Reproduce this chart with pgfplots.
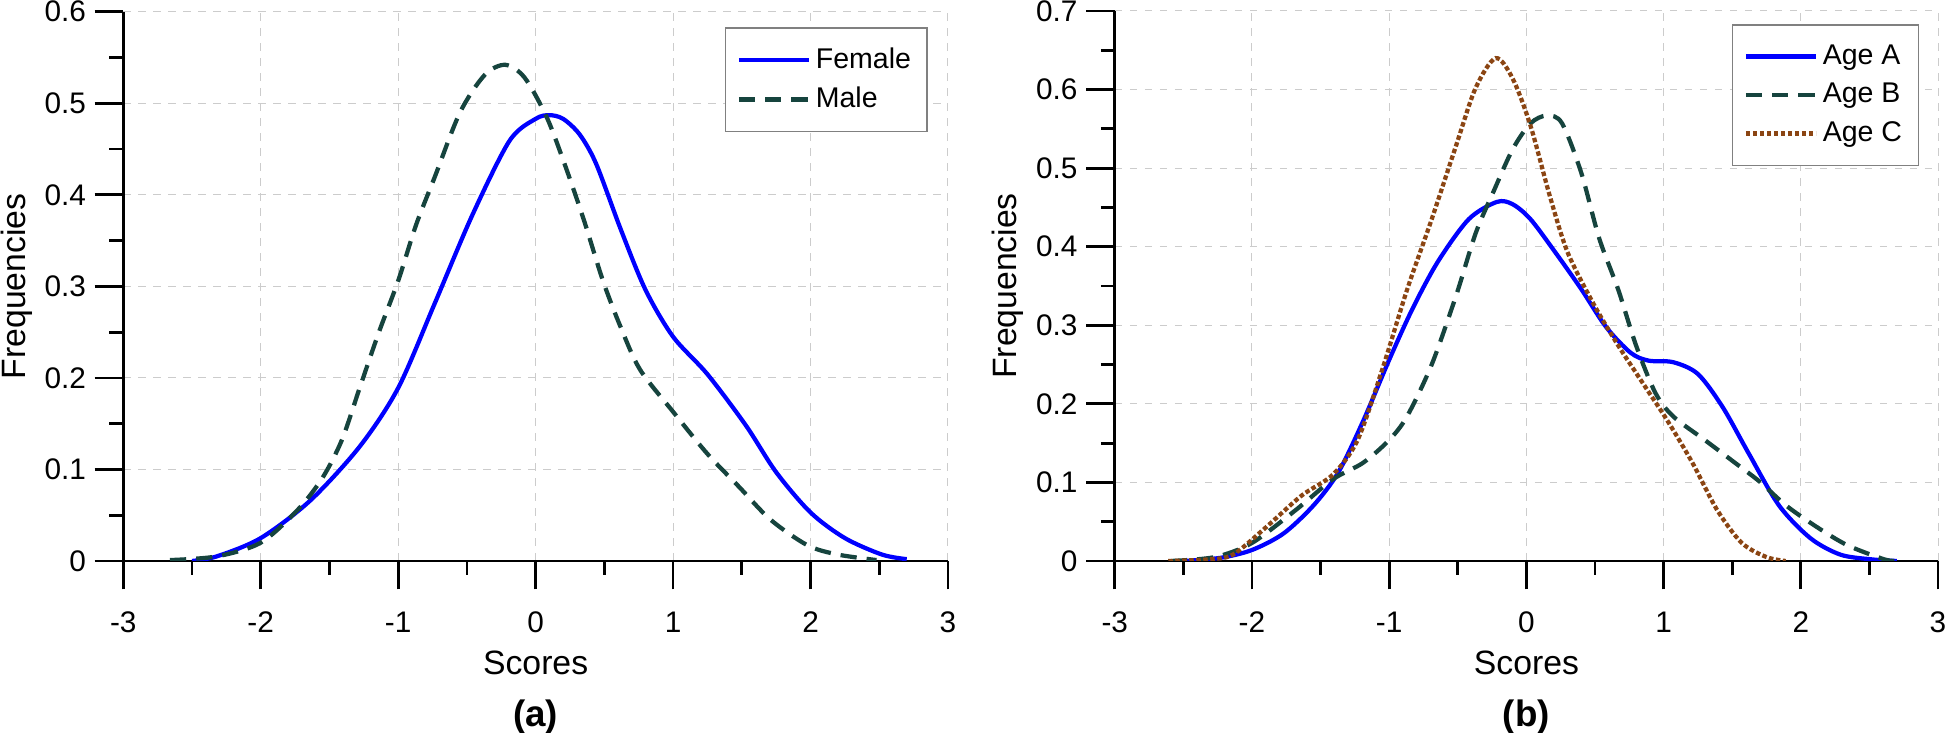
\documentclass[border=0pt]{standalone}
\usepackage{fontspec}
\setmainfont{Liberation Sans}
\usepackage{pgfplots}
\pgfplotsset{compat=1.18}

\definecolor{curveblue}{RGB}{0,0,255}
\definecolor{darkteal}{RGB}{22,68,62}
\definecolor{agebrown}{RGB}{139,69,19}

\pgfplotsset{
  panel/.style={
    scale only axis,
    anchor=south west,
    xmin=-3, xmax=3,
    xtick={-3,-2,-1,0,1,2,3},
    minor x tick num=1, minor y tick num=1,
    axis x line*=bottom, axis y line*=left,
    axis line style={line width=1.1pt, -},
    every tick/.style={black, line width=1.1pt},
    tick align=outside,
    major tick length=11.4pt, minor tick length=5.6pt,
    grid=major,
    grid style={dashed, gray!40, line width=0.4pt},
    tick label style={font=\fontsize{11.9}{14}\selectfont},
    xticklabel style={yshift=-5.5pt},
    /pgf/number format/assume math mode=true,
    label style={font=\fontsize{13.5}{16}\selectfont},
    xlabel={Scores}, ylabel={Frequencies},
    xlabel style={at={(axis description cs:0.5,-0.1857)}, anchor=center},
    ylabel style={at={(axis description cs:-0.1294,0.5)}, anchor=center},
    title style={at={(axis description cs:0.5,-0.311)}, anchor=center, yshift=0pt,
      font=\fontsize{14.7}{17}\selectfont\bfseries},
    legend cell align=left,
    legend style={draw=gray, line width=0.6pt, anchor=north east,
      font=\fontsize{11.4}{13}\selectfont, inner xsep=4.5pt, inner ysep=6pt, row sep=2pt},
    legend image code/.code={\draw[#1] (0pt,0pt) -- (28pt,0pt);},
  },
  solidline/.style={curveblue, line width=1.7pt, smooth, tension=0.5},
  dashline/.style={darkteal, line width=1.7pt, dash pattern=on 6.5pt off 4pt, smooth, tension=0.5},
  dotline/.style={agebrown, line width=1.7pt, dash pattern=on 1.8pt off 1pt, smooth, tension=0.5},
}

\begin{document}
\begin{tikzpicture}
\useasboundingbox (0,0) rectangle (778.4pt,293.2pt);

% (a) gender
\begin{axis}[panel,
  at={(49.3pt,68.8pt)}, width=329.9pt, height=219.7pt,
  ymin=0, ymax=0.6, ytick={0,0.1,0.2,0.3,0.4,0.5,0.6},
  title={(a)},
  legend style={at={(axis description cs:0.9757,0.972)}},
]
\addplot[solidline] coordinates {
  (-2.50,0) (-2.32,0.005) (-2.00,0.025) (-1.64,0.066) (-1.28,0.125)
  (-1.00,0.189) (-0.735,0.281) (-0.46,0.378) (-0.19,0.459) (0.00,0.483)
  (0.10,0.487) (0.20,0.483) (0.32,0.466) (0.44,0.434) (0.62,0.362) (0.80,0.296)
  (1.00,0.245) (1.25,0.204) (1.53,0.148) (1.75,0.097) (2.00,0.053)
  (2.25,0.025) (2.52,0.007) (2.70,0.002)
};
\addlegendentry{Female}
\addplot[dashline] coordinates {
  (-2.66,0.001) (-2.32,0.005) (-2.00,0.020) (-1.73,0.056) (-1.55,0.091)
  (-1.41,0.132) (-1.28,0.189) (-1.14,0.250) (-1.00,0.306) (-0.87,0.367)
  (-0.735,0.419) (-0.55,0.490) (-0.37,0.531) (-0.22,0.542) (-0.08,0.528)
  (0.08,0.485) (0.21,0.434) (0.35,0.373) (0.49,0.306) (0.62,0.255)
  (0.76,0.209) (1.00,0.163) (1.25,0.117) (1.48,0.081) (1.71,0.045)
  (1.98,0.017) (2.20,0.007) (2.48,0.001)
};
\addlegendentry{Male}
\end{axis}

% (b) age
\begin{axis}[panel,
  at={(445.9pt,68.8pt)}, width=329.3pt, height=220pt,
  ymin=0, ymax=0.7, ytick={0,0.1,0.2,0.3,0.4,0.5,0.6,0.7},
  title={(b)},
  legend style={at={(axis description cs:0.977,0.976)}},
]
\addplot[solidline] coordinates {
  (-2.50,0) (-2.23,0.004) (-2.00,0.014) (-1.77,0.035) (-1.55,0.071)
  (-1.37,0.113) (-1.19,0.178) (-1.00,0.256) (-0.83,0.321) (-0.645,0.381)
  (-0.42,0.435) (-0.215,0.457) (-0.10,0.454) (0.03,0.435) (0.21,0.393)
  (0.40,0.346) (0.58,0.298) (0.76,0.265) (0.89,0.255) (1.07,0.253)
  (1.25,0.238) (1.43,0.196) (1.62,0.137) (1.84,0.071) (2.07,0.029)
  (2.29,0.008) (2.52,0.002) (2.70,0)
};
\addlegendentry{Age A}
\addplot[dashline] coordinates {
  (-2.59,0) (-2.27,0.005) (-2.00,0.023) (-1.68,0.065) (-1.41,0.104)
  (-1.19,0.125) (-1.00,0.154) (-0.87,0.184) (-0.69,0.250) (-0.51,0.339)
  (-0.37,0.417) (-0.24,0.470) (-0.10,0.524) (0.03,0.557) (0.15,0.567)
  (0.26,0.557) (0.40,0.494) (0.53,0.411) (0.67,0.345) (0.80,0.274)
  (0.94,0.214) (1.07,0.184) (1.30,0.154) (1.52,0.125) (1.70,0.101)
  (1.89,0.071) (2.11,0.044) (2.34,0.020) (2.61,0.002) (2.70,0)
};
\addlegendentry{Age B}
\addplot[dotline] coordinates {
  (-2.61,0) (-2.32,0.002) (-2.14,0.008) (-1.91,0.041) (-1.64,0.083)
  (-1.41,0.110) (-1.23,0.154) (-1.05,0.244) (-0.87,0.345) (-0.69,0.435)
  (-0.51,0.530) (-0.37,0.602) (-0.224,0.640) (-0.10,0.614) (0.03,0.554)
  (0.17,0.465) (0.30,0.393) (0.49,0.327) (0.67,0.274) (0.85,0.226)
  (1.03,0.178) (1.21,0.125) (1.39,0.065) (1.57,0.023) (1.75,0.005)
  (1.89,0)
};
\addlegendentry{Age C}
\end{axis}
\end{tikzpicture}
\end{document}
